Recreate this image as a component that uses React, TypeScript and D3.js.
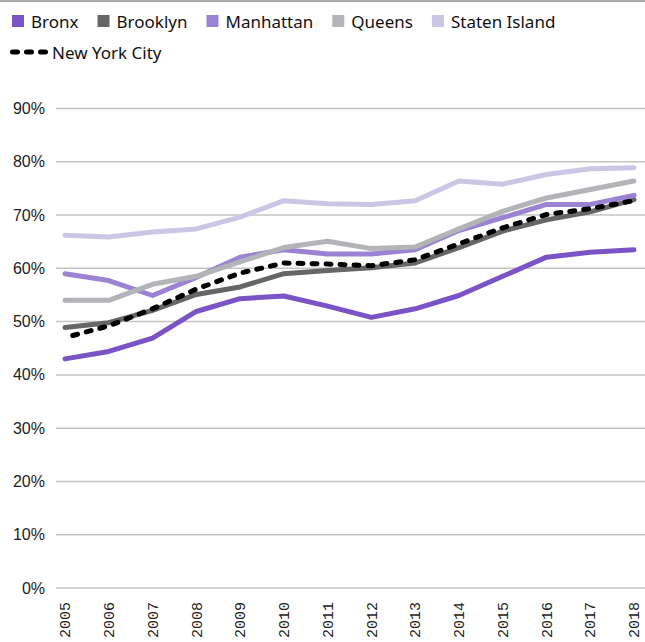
import { useEffect, useRef } from 'react';
import * as d3 from 'd3';

const years = [2005, 2006, 2007, 2008, 2009, 2010, 2011, 2012, 2013, 2014, 2015, 2016, 2017, 2018];

const bronx = [43.0, 44.4, 46.9, 51.9, 54.3, 54.8, 52.9, 50.8, 52.4, 54.9, 58.5, 62.1, 63.0, 63.5];
const brooklyn = [48.9, 49.8, 52.1, 55.1, 56.5, 59.0, 59.6, 60.1, 61.0, 63.9, 67.0, 69.1, 70.6, 72.9];
const manhattan = [59.0, 57.7, 54.9, 58.3, 62.1, 63.5, 62.7, 62.7, 63.5, 67.1, 69.5, 72.0, 72.0, 73.7];
const queens = [54.0, 54.0, 57.0, 58.5, 61.2, 63.9, 65.1, 63.7, 64.0, 67.4, 70.7, 73.2, 74.8, 76.4];
const statenIsland = [66.2, 65.9, 66.8, 67.4, 69.6, 72.7, 72.1, 72.0, 72.7, 76.4, 75.8, 77.6, 78.7, 78.9];
const newYorkCity = [47.0, 49.2, 52.4, 56.1, 59.1, 61.0, 60.8, 60.5, 61.6, 64.6, 67.6, 70.1, 71.2, 72.7];

const yTicks = [0, 10, 20, 30, 40, 50, 60, 70, 80, 90];

const boroughs = [
  { name: 'Bronx', values: bronx, color: '#7a53c6' },
  { name: 'Brooklyn', values: brooklyn, color: '#666666' },
  { name: 'Manhattan', values: manhattan, color: '#9b82d3' },
  { name: 'Queens', values: queens, color: '#b2b4b7' },
  { name: 'Staten Island', values: statenIsland, color: '#cdc5e6' },
];

const W = 645;
const H = 642;

export default function App() {
  const svgRef = useRef<SVGSVGElement>(null);

  useEffect(() => {
    document.body.style.margin = '0';
    if (!svgRef.current) return;

    const svg = d3.select(svgRef.current);
    svg.selectAll('*').remove();

    // plot area
    const x = d3.scaleLinear().domain([2005, 2018]).range([65, 634]);
    const y = d3.scaleLinear().domain([0, 90]).range([588, 108.5]);

    // thin rule across the top
    svg.append('line')
      .attr('x1', 0).attr('x2', W)
      .attr('y1', 1).attr('y2', 1)
      .attr('stroke', '#aaaaaa')
      .attr('stroke-width', 2);

    // grid lines + y labels
    const grid = svg.append('g');
    grid.selectAll('line')
      .data(yTicks)
      .join('line')
      .attr('x1', 56).attr('x2', W)
      .attr('y1', d => y(d)).attr('y2', d => y(d))
      .attr('stroke', '#c4c4c4')
      .attr('stroke-width', 1.5);

    grid.selectAll('text')
      .data(yTicks)
      .join('text')
      .attr('x', 45)
      .attr('y', d => y(d))
      .attr('dy', '0.35em')
      .attr('text-anchor', 'end')
      .style('font-family', '"Liberation Sans", Arial, sans-serif')
      .style('font-size', '16px')
      .attr('fill', '#222')
      .text(d => `${d}%`);

    // x labels, rotated
    svg.append('g')
      .selectAll('text')
      .data(years)
      .join('text')
      .attr('transform', d => `translate(${x(d)},602) rotate(-90)`)
      .attr('dy', '0.35em')
      .attr('text-anchor', 'end')
      .style('font-family', '"Liberation Mono", monospace')
      .style('font-size', '15px')
      .attr('fill', '#222')
      .text(d => String(d));

    const line = d3.line<number>()
      .x((_, i) => x(years[i]))
      .y(d => y(d));

    // borough lines
    boroughs.forEach(b => {
      svg.append('path')
        .datum(b.values)
        .attr('fill', 'none')
        .attr('stroke', b.color)
        .attr('stroke-width', 5)
        .attr('stroke-linejoin', 'round')
        .attr('stroke-linecap', 'round')
        .attr('d', line);
    });

    // city average, dashed
    svg.append('path')
      .datum(newYorkCity)
      .attr('fill', 'none')
      .attr('stroke', '#000')
      .attr('stroke-width', 5)
      .attr('stroke-linecap', 'round')
      .attr('stroke-dasharray', '5,9')
      .attr('stroke-dashoffset', -8)
      .attr('d', line);

    // legend row 1
    const legend = svg.append('g')
      .style('font-family', '"Noto Sans", sans-serif')
      .style('font-size', '17px');

    let lx = 12;
    boroughs.forEach(b => {
      legend.append('rect')
        .attr('x', lx).attr('y', 15)
        .attr('width', 12).attr('height', 12)
        .attr('fill', b.color);
      const t = legend.append('text')
        .attr('x', lx + 19)
        .attr('y', 27.5)
        .attr('fill', '#111')
        .text(b.name);
      const w = (t.node() as SVGTextElement).getComputedTextLength();
      lx += 19 + w + 19;
    });

    // legend row 2
    legend.append('line')
      .attr('x1', 12.5).attr('x2', 46)
      .attr('y1', 52).attr('y2', 52)
      .attr('stroke', '#000')
      .attr('stroke-width', 5)
      .attr('stroke-linecap', 'round')
      .attr('stroke-dasharray', '5,9');

    legend.append('text')
      .attr('x', 52)
      .attr('y', 59)
      .attr('fill', '#111')
      .text('New York City');
  }, []);

  return (
    <svg ref={svgRef} width={W} height={H} style={{ display: 'block', background: '#fff' }} />
  );
}
